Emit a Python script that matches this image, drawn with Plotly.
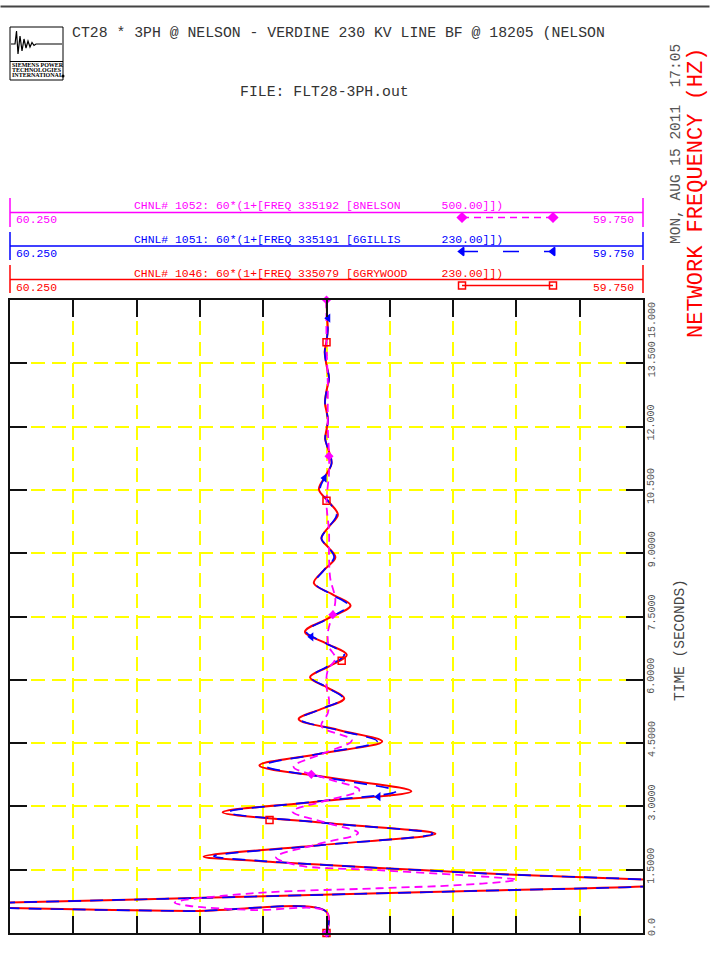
import plotly.graph_objects as go

# ------------------------------------------------------------------ data
# time (s) vs frequency (Hz)
red_t = [0.0, 0.50, 0.52, 0.59, 0.655, 0.72, 0.81, 0.91, 1.00, 1.10, 1.19, 1.27, 1.39, 1.49, 1.61, 1.71,
         1.81, 2.08, 2.35, 2.60, 2.86, 3.11, 3.36, 3.66, 3.97, 4.25, 4.54, 4.80, 5.07, 5.31, 5.56, 5.81,
         6.06, 6.32, 6.59, 6.86, 7.14, 7.45, 7.76, 8.02, 8.29, 8.60, 8.90, 9.12, 9.35, 9.63, 9.91, 10.21,
         10.51, 10.82, 11.13, 11.41, 11.70, 11.93, 12.15, 12.36, 12.56, 12.85, 13.14, 13.46, 13.77, 14.03,
         14.29, 14.60, 15.0]
red_f = [60.0, 60.0, 60.11, 60.25, 60.31, 60.25, 60.128, 59.997, 59.878, 59.75, 59.70, 59.75, 59.86, 59.926, 60.0, 60.057,
         60.097, 60.006, 59.914, 59.998, 60.082, 60.008, 59.933, 59.993, 60.053, 60.005, 59.956, 59.989, 60.022, 60.004, 59.986, 59.999,
         60.013, 59.998, 59.984, 60.0, 60.017, 59.999, 59.981, 59.995, 60.010, 60.002, 59.993, 59.998, 60.004, 59.998, 59.991, 59.998,
         60.006, 60.001, 59.996, 59.998, 60.001, 60.0, 59.9988, 60.0, 60.0012, 60.0, 59.998, 60.0, 60.0014, 60.0,
         59.999, 59.9995, 60.0]

blue_t = [0.0, 0.50, 0.52, 0.59, 0.655, 0.72, 0.81, 0.91, 1.00, 1.10, 1.19, 1.27, 1.39, 1.49, 1.61, 1.71,
          1.82, 2.08, 2.35, 2.60, 2.86, 3.11, 3.36, 3.66, 3.97, 4.25, 4.54, 4.80, 5.07, 5.31, 5.56, 5.81,
          6.06, 6.32, 6.59, 6.86, 7.14, 7.45, 7.76, 8.02, 8.29, 8.60, 8.90, 9.12, 9.35, 9.63, 9.91, 10.21,
          10.51, 10.82, 11.13, 11.41, 11.70, 11.93, 12.15, 12.36, 12.56, 12.85, 13.14, 13.46, 13.77, 14.03,
          14.29, 14.60, 15.0]
blue_f = [60.0, 60.0, 60.11, 60.25, 60.31, 60.25, 60.128, 59.997, 59.878, 59.75, 59.70, 59.75, 59.86, 59.926, 60.0, 60.052,
          60.089, 60.004, 59.916, 59.998, 60.078, 60.010, 59.945, 59.996, 60.049, 60.005, 59.960, 59.990, 60.021, 60.004, 59.987, 59.999,
          60.012, 59.999, 59.986, 60.0, 60.016, 59.999, 59.983, 59.996, 60.009, 60.002, 59.994, 59.998, 60.004, 59.998, 59.992, 59.998,
          60.005, 60.001, 59.996, 59.998, 60.001, 60.0, 59.9988, 60.0, 60.0012, 60.0, 59.998, 60.0, 60.0014, 60.0,
          59.999, 59.9995, 60.0]

mag_t = [0.0, 0.50, 0.545, 0.64, 0.72, 0.94, 1.06, 1.14, 1.26, 1.37, 1.49, 1.61, 1.80, 2.10, 2.37, 2.62,
         2.88, 3.13, 3.39, 3.66, 3.94, 4.25, 4.57, 4.90, 5.21, 5.52, 5.84, 6.23, 6.51, 6.78, 7.10, 7.58,
         7.89, 8.40, 8.90, 9.50, 10.20, 10.90, 11.32, 12.0, 13.0, 14.0, 15.0]
mag_f = [60.0, 60.0, 60.059, 60.108, 60.12, 60.059, 59.959, 59.893, 59.85, 59.893, 59.959, 60.024, 60.040, 60.008, 59.975, 60.001,
         60.027, 60.001, 59.974, 60.000, 60.026, 60.003, 59.980, 60.004, 59.999, 59.998, 60.0, 59.999, 59.993, 59.998, 59.999, 59.995,
         59.993, 59.997, 59.998, 59.998, 60.0, 59.998, 59.998, 59.999, 59.999, 60.0, 60.0]

# symbol positions along each curve
red_mk_t = [0.0, 2.68, 6.45, 10.24, 14.0]
red_mk_f = [60.0, 60.045, 59.988, 60.0, 60.0]
blue_mk_t = [0.0, 3.23, 7.02, 10.78, 14.57]
blue_mk_f = [60.0, 59.959, 60.012, 60.0016, 59.9986]
mag_mk_t = [0.0, 3.76, 7.54, 11.30, 15.0]
mag_mk_f = [60.0, 60.012, 59.995, 59.998, 60.0]

# channel descriptions
chan_labels = ["CHNL# 1052: 60*(1+[FREQ 335192 [8NELSON      500.00]])",
               "CHNL# 1051: 60*(1+[FREQ 335191 [6GILLIS      230.00]])",
               "CHNL# 1046: 60*(1+[FREQ 335079 [6GRYWOOD     230.00]])"]
freq_min_label = "60.250"
freq_max_label = "59.750"
time_ticks = [0.0, 1.5, 3.0, 4.5, 6.0, 7.5, 9.0, 10.5, 12.0, 13.5, 15.0]
time_tick_text = ["0.0", "1.5000", "3.0000", "4.5000", "6.0000", "7.5000", "9.0000",
                  "10.500", "12.000", "13.500", "15.000"]

title_text = "CT28 * 3PH @ NELSON - VERDINE 230 KV LINE BF @ 18205 (NELSON"
file_text = "FILE: FLT28-3PH.out"
date_text = "MON, AUG 15 2011  17:05"
yname_text = "NETWORK FREQUENCY (HZ)"
xname_text = "TIME (SECONDS)"
logo_lines = ["SIEMENS POWER", "TECHNOLOGIES", "INTERNATIONAL"]

# ------------------------------------------------------------------ geometry helpers
W, H = 710, 955
L, R, T, B = 10, 67, 0, 22
PW = W - L - R
PH = H - T - B
FONT = "Liberation Mono"
MAG, BLUE, RED = "#ff00ff", "#0000ff", "#ff0000"


def px(x):
    return (x - L) / PW


def py(y):
    return (H - B - y) / PH


def nb(s):
    return s.replace(" ", "\u00a0")


fig = go.Figure()

# ------------------------------------------------------------------ curves
fig.add_trace(go.Scatter(x=red_f, y=red_t, mode="lines",
                         line=dict(color=RED, width=2.0, shape="spline", smoothing=1.0),
                         hoverinfo="skip", showlegend=False))
fig.add_trace(go.Scatter(x=blue_f, y=blue_t, mode="lines",
                         line=dict(color=BLUE, width=1.7, dash="13px,9px", shape="spline", smoothing=1.0),
                         hoverinfo="skip", showlegend=False))
fig.add_trace(go.Scatter(x=mag_f, y=mag_t, mode="lines",
                         line=dict(color=MAG, width=1.8, dash="8px,5px", shape="spline", smoothing=1.0),
                         hoverinfo="skip", showlegend=False))

fig.add_trace(go.Scatter(x=red_mk_f, y=red_mk_t, mode="markers", cliponaxis=False,
                         marker=dict(symbol="square-open", size=7, color=RED, line=dict(width=1.5, color=RED)),
                         hoverinfo="skip", showlegend=False))
fig.add_trace(go.Scatter(x=blue_mk_f, y=blue_mk_t, mode="markers", cliponaxis=False,
                         marker=dict(symbol="triangle-left", size=8, color=BLUE),
                         hoverinfo="skip", showlegend=False))
fig.add_trace(go.Scatter(x=mag_mk_f, y=mag_mk_t, mode="markers", cliponaxis=False,
                         marker=dict(symbol="diamond", size=7, color=MAG),
                         hoverinfo="skip", showlegend=False))

# ------------------------------------------------------------------ channel legend (pixel-scaled subplot)
leg_rows = [  # (colour, text y, line y, bar top, bar bottom, label y, sample y, dash, symbol)
    (MAG, 206, 212.5, 198, 227, 220.5, 217.5, "7px,5px", "diamond"),
    (BLUE, 240, 246, 232, 260, 254, 251.5, "16px,25px", "triangle-left"),
    (RED, 274, 279.5, 265, 293, 288, 285.5, "solid", "square-open"),
]
shapes = []
annotations = []
for (col, ty, ly, b0, b1, lab_y, sy, dash, sym), text in zip(leg_rows, chan_labels):
    fig.add_trace(go.Scatter(x=[462, 553], y=[sy, sy], xaxis="x2", yaxis="y2", mode="lines+markers",
                             cliponaxis=False,
                             line=dict(color=col, width=1.6, dash=dash),
                             marker=dict(symbol=sym, size=7, color=col, line=dict(width=1.5, color=col)),
                             hoverinfo="skip", showlegend=False))
    shapes.append(dict(type="line", xref="paper", yref="paper", x0=px(10), x1=px(643), y0=py(ly), y1=py(ly),
                       line=dict(color=col, width=1.5)))
    for bx in (10, 643):
        shapes.append(dict(type="line", xref="paper", yref="paper", x0=px(bx), x1=px(bx), y0=py(b0), y1=py(b1),
                           line=dict(color=col, width=1.5)))
    annotations.append(dict(text=nb(text), xref="paper", yref="paper", x=px(318), y=py(ty),
                            xanchor="center", yanchor="middle", showarrow=False,
                            font=dict(family=FONT, size=11.4, color=col)))
    annotations.append(dict(text=freq_min_label, xref="paper", yref="paper", x=px(14), y=py(lab_y),
                            xanchor="left", yanchor="middle", showarrow=False,
                            font=dict(family=FONT, size=11.4, color=col)))
    annotations.append(dict(text=freq_max_label, xref="paper", yref="paper", x=px(636), y=py(lab_y),
                            xanchor="right", yanchor="middle", showarrow=False,
                            font=dict(family=FONT, size=11.4, color=col)))

# ------------------------------------------------------------------ header / logo
shapes.append(dict(type="line", xref="paper", yref="paper", x0=px(0.5), x1=px(709.5), y0=py(6.5), y1=py(6.5),
                   line=dict(color="#444444", width=2)))
# the same header rule as a filled annotation bar
annotations.append(dict(text=" ", xref="paper", yref="paper", x=px(355), y=py(6.5),
                        xanchor="center", yanchor="middle", showarrow=False,
                        width=708, height=1, bgcolor="#444444", borderpad=0, borderwidth=0,
                        font=dict(size=1, color="#444444")))
shapes.append(dict(type="rect", xref="paper", yref="paper", x0=px(10), x1=px(63), y0=py(80), y1=py(27),
                   line=dict(color="black", width=1)))
shapes.append(dict(type="line", xref="paper", yref="paper", x0=px(10), x1=px(63), y0=py(61.5), y1=py(61.5),
                   line=dict(color="black", width=1)))
wave = [(11, 44), (15, 44), (16.5, 31), (18, 54), (20, 36), (22, 51), (24, 39), (26, 48), (28, 41),
        (30, 47), (32, 42.5), (34, 45.5), (36, 44), (62, 44)]
path = "M " + " L ".join(f"{px(a):.5f},{py(b):.5f}" for a, b in wave)
shapes.append(dict(type="path", xref="paper", yref="paper", path=path, line=dict(color="black", width=1.2)))
shapes.append(dict(type="circle", xref="paper", yref="paper", x0=px(61.5), x1=px(64.5), y0=py(77.5), y1=py(74.5),
                   fillcolor="black", line=dict(color="black", width=0)))
for i, s in enumerate(logo_lines):
    annotations.append(dict(text="<b>" + s + "</b>", xref="paper", yref="paper", x=px(10), y=py(64.8 + 5.2 * i),
                            xanchor="left", yanchor="middle", showarrow=False,
                            font=dict(family="Liberation Serif", size=6, color="black")))

annotations.append(dict(text=nb(title_text), xref="paper", yref="paper", x=px(70), y=py(33),
                        xanchor="left", yanchor="middle", showarrow=False,
                        font=dict(family=FONT, size=14.8, color="#333333")))
annotations.append(dict(text=nb(file_text), xref="paper", yref="paper", x=px(324), y=py(92),
                        xanchor="center", yanchor="middle", showarrow=False,
                        font=dict(family=FONT, size=14.8, color="#333333")))
annotations.append(dict(text=nb(date_text), xref="paper", yref="paper", x=px(676), y=py(144),
                        xanchor="center", yanchor="middle", textangle=-90, showarrow=False,
                        font=dict(family=FONT, size=14.5, color="#555555")))
annotations.append(dict(text=nb(yname_text), xref="paper", yref="paper", x=px(696), y=py(193),
                        xanchor="center", yanchor="middle", textangle=-90, showarrow=False,
                        font=dict(family=FONT, size=22, color=RED)))
annotations.append(dict(text=nb(xname_text), xref="paper", yref="paper", x=px(680), y=py(640),
                        xanchor="center", yanchor="middle", textangle=-90, showarrow=False,
                        font=dict(family=FONT, size=14.5, color="#444444")))

# time tick labels (rotated, right side)
for v, s in zip(time_ticks, time_tick_text):
    shift = 4
    if v == time_ticks[-1]:
        shift = -20
    elif v == time_ticks[0]:
        shift = 6
    annotations.append(dict(text=s, xref="paper", yref="y", x=px(652), y=v, yshift=shift,
                            xanchor="center", yanchor="middle", textangle=-90, showarrow=False,
                            font=dict(family=FONT, size=10, color="#555555")))

# ------------------------------------------------------------------ layout
axis_common = dict(showgrid=True, gridcolor="#ffff00", gridwidth=2, griddash="14px,7px",
                   zeroline=False, showticklabels=False, ticks="inside", ticklen=17, tickwidth=2,
                   tickcolor="#111111", showline=True, linecolor="#111111", linewidth=2, mirror="ticks")

fig.update_layout(
    width=W, height=H,
    margin=dict(l=L, r=R, t=T, b=B, pad=0, autoexpand=False),
    paper_bgcolor="white", plot_bgcolor="rgba(0,0,0,0)",
    showlegend=False,
    xaxis=dict(domain=[0, 1], range=[60.25, 59.75], anchor="y", tick0=59.75, dtick=0.05, **axis_common),
    yaxis=dict(domain=[0, py(300)], range=[0, 15], anchor="x", tick0=0, dtick=1.5, **axis_common),
    xaxis2=dict(domain=[0, 1], range=[10, 643], anchor="y2", visible=False),
    yaxis2=dict(domain=[py(297), py(190)], range=[297, 190], anchor="x2", visible=False),
    shapes=shapes,
    annotations=annotations,
)

fig.write_html("out.html", config={"displayModeBar": False},
               post_script="document.body.style.margin='0px';document.body.style.overflow='hidden';")
